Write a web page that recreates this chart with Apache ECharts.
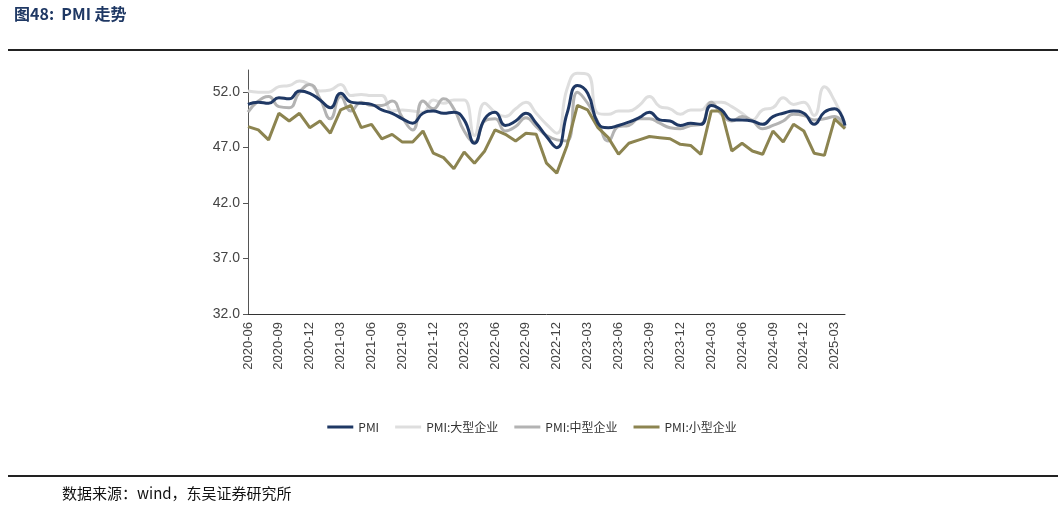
<!DOCTYPE html>
<html><head><meta charset="utf-8">
<script src="https://cdn.jsdelivr.net/npm/echarts@6/dist/echarts.min.js"></script>
<style>body{margin:0;background:#fff}#c{width:1064px;height:522px}</style>
</head><body><div id="c"></div>
<script>
// 月份
var months = [];
for (var y = 2020; y <= 2025; y++) {
  for (var m = 1; m <= 12; m++) {
    if ((y === 2020 && m < 6) || (y === 2025 && m > 4)) continue;
    months.push(y + '-' + (m < 10 ? '0' + m : m));
  }
}
var pmi = [50.9,51.1,51.0,51.5,51.4,52.1,51.9, 51.3,50.6,51.9,51.1,51.0,50.9,50.4,50.1,49.6,49.2,50.1,50.3,
  50.1,50.2,49.5,47.4,49.6,50.2,49.0,49.4,50.1,49.2,48.0,47.0, 50.1,52.6,51.9,49.2,48.8,49.0,49.3,49.7,50.2,49.5,49.4,49.0,
  49.2,49.1,50.8,50.4,49.5,49.5,49.4,49.1,49.8,50.1,50.3,50.1, 49.1,50.2,50.5,49.0];
var large = [52.1,52.0,52.0,52.5,52.6,53.0,52.7, 52.1,52.2,52.7,51.7,51.8,51.7,51.7,50.3,50.4,50.3,50.2,51.3,
  51.0,51.3,51.3,48.1,51.0,50.2,49.8,50.5,51.1,50.1,49.1,48.3, 52.3,53.7,53.6,50.1,50.0,50.3,50.3,50.8,51.6,50.7,50.5,50.0,
  50.4,50.4,51.1,51.1,50.7,50.1,49.5,50.4,50.6,51.5,50.9,51.1, 49.9,52.5,51.2,49.2];
var medium = [50.2,51.2,51.6,50.7,50.6,52.0,52.7, 51.4,49.6,51.6,50.3,51.1,50.8,50.8,51.2,49.7,48.6,51.2,50.5,
  51.4,50.5,48.5,47.5,49.4,49.6,48.5,48.9,49.7,48.9,48.1,47.7, 47.6,52.0,51.0,49.3,47.6,48.9,49.0,49.6,49.6,49.2,48.8,48.7,
  49.0,49.1,51.1,50.0,49.4,49.8,49.4,48.7,49.0,49.4,50.0,49.9, 49.5,49.6,49.8,48.8];
var small = [48.9,48.6,47.7,50.1,49.4,50.1,48.8, 49.4,48.3,50.4,50.8,48.8,49.1,47.8,48.2,47.5,47.5,48.5,46.5,
  46.1,45.1,46.6,45.6,46.7,48.6,48.2,47.6,48.3,48.2,45.6,44.7, 47.2,50.8,50.4,48.8,47.9,46.4,47.4,47.7,48.0,47.9,47.8,47.3,
  47.2,46.4,50.3,50.3,46.7,47.4,46.7,46.4,48.5,47.5,49.1,48.5, 46.5,46.3,49.6,48.7];
var names = ['PMI', 'PMI:大型企业', 'PMI:中型企业', 'PMI:小型企业'];
var colors = ['#1f3864', '#dedede', '#b3b3b3', '#8c8450'];

var myChart = echarts.init(document.getElementById('c'));
var font = '"Noto Sans CJK SC", sans-serif';
var option = {
  animation: false,
  textStyle: { fontFamily: font },
  graphic: [
    { type: 'text', left: 14, top: 6, style: { text: '图48:  PMI 走势', fontSize: 16, fontWeight: 'bold', fill: '#1f3864', fontFamily: font } },
    { type: 'rect', shape: { x: 8, y: 49, width: 1050, height: 2 }, style: { fill: '#222' } },
    { type: 'rect', shape: { x: 8, y: 475, width: 1050, height: 2 }, style: { fill: '#222' } },
    { type: 'text', left: 62, top: 486, style: { text: '数据来源：wind，东吴证券研究所', fontSize: 15, fill: '#111', fontFamily: font } }
  ],
  legend: {
    data: names, top: 416, left: 'center', itemWidth: 26, itemHeight: 3, itemGap: 16,
    icon: 'rect', textStyle: { fontSize: 12, color: '#333' }
  },
  grid: { left: 248, right: 219, top: 70, bottom: 208 },
  xAxis: {
    type: 'category', data: months, boundaryGap: false,
    axisLine: { lineStyle: { color: '#333' } },
    axisTick: { show: false },
    axisLabel: { interval: 2, rotate: 90, fontSize: 13, color: '#444', fontFamily: 'Liberation Sans' }
  },
  yAxis: {
    type: 'value', min: 32, max: 54, interval: 5,
    splitLine: { show: false },
    axisLine: { show: true, lineStyle: { color: '#555' } },
    axisTick: { show: true, length: 5 },
    axisLabel: { showMaxLabel: false, fontSize: 14, color: '#444', fontFamily: 'Liberation Sans',
      formatter: function (v) { return v.toFixed(1); } }
  },
  series: [
    { name: names[0], data: pmi, z: 4, color: colors[0] },
    { name: names[1], data: large, z: 1, color: colors[1] },
    { name: names[2], data: medium, z: 2, color: colors[2] },
    { name: names[3], data: small, z: 3, smooth: false, color: colors[3] }
  ].map(function (s) {
    return Object.assign({ type: 'line', smooth: true, showSymbol: false, lineStyle: { width: 3, color: s.color }, itemStyle: { color: s.color } }, s);
  })
};
myChart.setOption(option);
</script></body></html>
